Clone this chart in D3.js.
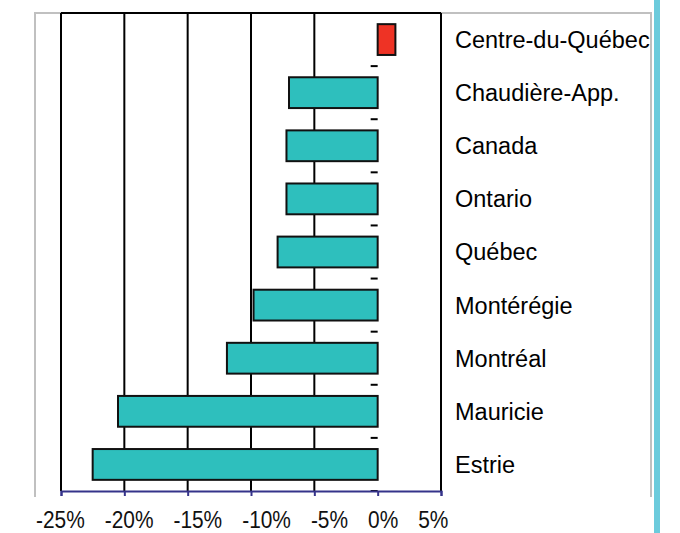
<!DOCTYPE html>
<html>
<head>
<meta charset="utf-8">
<script src="https://cdn.jsdelivr.net/npm/d3@7"></script>
<style>
  html, body { margin: 0; padding: 0; background: #fff; overflow: hidden; }
  svg { display: block; font-family: 'Liberation Sans', Arial, sans-serif; }
</style>
</head>
<body>
<svg id="chart" width="680" height="533"></svg>
<script>
// regions, top to bottom
const categories = ['Centre-du-Québec', 'Chaudière-App.', 'Canada', 'Ontario', 'Québec',
  'Montérégie', 'Montréal', 'Mauricie', 'Estrie'];
// change, in %
const values = [1.4, -7.0, -7.2, -7.2, -7.9, -9.8, -11.9, -20.5, -22.5];
const tickValues = [-25, -20, -15, -10, -5, 0, 5];

const svg = d3.select('#chart');

const plot = { left: 61, right: 441, top: 13, bottom: 491 };

const x = d3.scaleLinear()
  .domain([-25, 5])
  .range([plot.left, plot.right]);

const y = d3.scaleBand()
  .domain(categories)
  .range([plot.top, plot.bottom])
  .paddingInner(0.42)
  .paddingOuter(0.21);

// grey outer frame (no bottom edge)
svg.append('path')
  .attr('d', `M35,497V${plot.top}H651V497`)
  .attr('fill', 'none')
  .attr('stroke', '#c0c0c0')
  .attr('stroke-width', 2);

// blue strip on the right
svg.append('rect')
  .attr('x', 654)
  .attr('y', 0)
  .attr('width', 6)
  .attr('height', 533)
  .attr('fill', '#6ccbdc');

// vertical grid lines (all but 0)
svg.append('g')
  .selectAll('line')
  .data(tickValues.filter(t => t !== 0))
  .join('line')
  .attr('x1', d => x(d))
  .attr('x2', d => x(d))
  .attr('y1', plot.top)
  .attr('y2', plot.bottom)
  .attr('stroke', '#000')
  .attr('stroke-width', 2);

// top border
svg.append('line')
  .attr('x1', plot.left)
  .attr('x2', plot.right)
  .attr('y1', plot.top)
  .attr('y2', plot.top)
  .attr('stroke', '#000')
  .attr('stroke-width', 2);

// category ticks on the zero line
const step = y.step();
svg.append('g')
  .selectAll('line')
  .data(d3.range(categories.length + 1))
  .join('line')
  .attr('x1', x(0) - 7)
  .attr('x2', x(0))
  .attr('y1', i => plot.top + i * step)
  .attr('y2', i => plot.top + i * step)
  .attr('stroke', '#000')
  .attr('stroke-width', 2);

// bars
svg.append('g')
  .selectAll('rect')
  .data(categories)
  .join('rect')
  .attr('x', (c, i) => x(Math.min(0, values[i])))
  .attr('y', c => y(c))
  .attr('width', (c, i) => Math.abs(x(values[i]) - x(0)))
  .attr('height', y.bandwidth())
  .attr('fill', (c, i) => values[i] >= 0 ? '#ee3325' : '#2ebfbd')
  .attr('stroke', '#111')
  .attr('stroke-width', 2);

// bottom axis
const xAxis = svg.append('g')
  .attr('transform', `translate(0,${plot.bottom})`)
  .call(d3.axisBottom(x).tickValues(tickValues).tickSize(5).tickFormat(''));
xAxis.select('.domain')
  .attr('stroke', '#35338a')
  .attr('stroke-width', 2);
xAxis.selectAll('.tick line')
  .attr('stroke', '#35338a')
  .attr('stroke-width', 2);

// tick labels, set as one condensed line like the original
const fmt = d => `${d}%`;
const squeeze = 0.87;
const labels = svg.append('text')
  .attr('transform', `translate(36,528) scale(${squeeze},1)`)
  .attr('font-size', 24)
  .attr('fill', '#111');
labels.selectAll('tspan')
  .data(tickValues)
  .join('tspan')
  .attr('dx', (d, i) => i === 0 ? 0 : 20 / squeeze)
  .text(fmt);

// category labels
svg.append('g')
  .selectAll('text')
  .data(categories)
  .join('text')
  .attr('x', 455)
  .attr('y', c => y(c) + y.bandwidth() / 2)
  .attr('dy', '0.36em')
  .attr('font-size', 23.5)
  .attr('fill', '#000')
  .text(c => c);
</script>
</body>
</html>
